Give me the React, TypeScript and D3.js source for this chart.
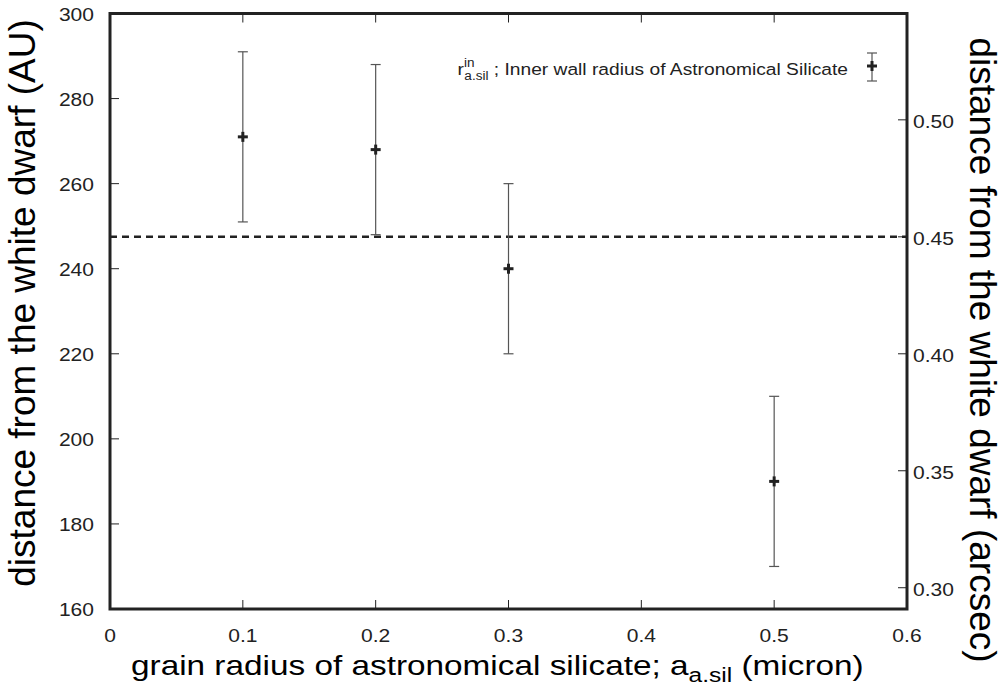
import React from "react";
import * as d3 from "d3";

// grain radius (micron)
const grainRadius = [0.1, 0.2, 0.3, 0.5];
// inner wall radius (AU) with error bar ends
const innerRadius = [271, 268, 240, 190];
const errLow = [251, 248, 220, 170];
const errHigh = [291, 288, 260, 210];
// dashed reference line (AU)
const refLine = 247.5;
// distance conversion: AU per arcsec
const auPerArcsec = 550;

const xTicks = [0, 0.1, 0.2, 0.3, 0.4, 0.5, 0.6];
const yTicks = [160, 180, 200, 220, 240, 260, 280, 300];
const y2Ticks = [0.3, 0.35, 0.4, 0.45, 0.5];

const W = 1005;
const H = 690;
const m = { left: 110, right: 907, top: 13.5, bottom: 609 };
const font = "'Liberation Sans', Arial, Helvetica, sans-serif";
const sx = 1.17; // horizontal text stretch seen in the figure

export default function App() {
  const x = d3.scaleLinear().domain([0, 0.6]).range([m.left, m.right]);
  const y = d3.scaleLinear().domain([160, 300]).range([m.bottom, m.top]);
  const y2 = d3
    .scaleLinear()
    .domain([160 / auPerArcsec, 300 / auPerArcsec])
    .range([m.bottom, m.top]);

  const ink = "#222";
  const bar = "#555";

  const plus = (cx: number, cy: number, key: string) => (
    <g key={key} stroke={ink} strokeWidth={3}>
      <line x1={cx - 5} x2={cx + 5} y1={cy} y2={cy} />
      <line x1={cx} x2={cx} y1={cy - 5} y2={cy + 5} />
    </g>
  );

  const label = (px: number, py: number, s: string, anchor: string, key: string) => (
    <text
      key={key}
      transform={`translate(${px},${py}) scale(${sx},1)`}
      textAnchor={anchor}
      fontSize={18}
      fill={ink}
    >
      {s}
    </text>
  );

  return (
    <svg
      width={W}
      height={H}
      style={{ position: "absolute", left: 0, top: 0, background: "#fff" }}
      fontFamily={font}
    >
      {/* x ticks bottom + top */}
      {xTicks.map((t) => (
        <g key={"xt" + t}>
          <line x1={x(t)} x2={x(t)} y1={m.bottom} y2={m.bottom - 9} stroke={ink} strokeWidth={1} />
          <line x1={x(t)} x2={x(t)} y1={m.top} y2={m.top + 9} stroke={ink} strokeWidth={1} />
          {label(x(t), 642, t === 0 ? "0" : t.toFixed(1), "middle", "xl" + t)}
        </g>
      ))}
      {/* left y ticks */}
      {yTicks.map((t) => (
        <g key={"yt" + t}>
          <line x1={m.left} x2={m.left + 9} y1={y(t)} y2={y(t)} stroke={ink} strokeWidth={1} />
          {label(94, y(t) + 7, String(t), "end", "yl" + t)}
        </g>
      ))}
      {/* right y2 ticks */}
      {y2Ticks.map((t) => (
        <g key={"y2t" + t}>
          <line x1={m.right} x2={m.right - 9} y1={y2(t)} y2={y2(t)} stroke={ink} strokeWidth={1} />
          {label(913, y2(t) + 8, t.toFixed(2), "start", "y2l" + t)}
        </g>
      ))}

      {/* dashed line */}
      <line
        x1={m.left}
        x2={m.right}
        y1={y(refLine)}
        y2={y(refLine)}
        stroke={ink}
        strokeWidth={2.5}
        strokeDasharray="7,5"
      />

      {/* error bars */}
      {grainRadius.map((g, i) => (
        <g key={"e" + i} stroke={bar} strokeWidth={1.2}>
          <line x1={x(g)} x2={x(g)} y1={y(errLow[i])} y2={y(errHigh[i])} />
          <line x1={x(g) - 5} x2={x(g) + 5} y1={y(errLow[i])} y2={y(errLow[i])} />
          <line x1={x(g) - 5} x2={x(g) + 5} y1={y(errHigh[i])} y2={y(errHigh[i])} />
        </g>
      ))}
      {grainRadius.map((g, i) => plus(x(g), y(innerRadius[i]), "p" + i))}

      {/* legend */}
      <text
        transform={`translate(848,75) scale(1.13,1)`}
        textAnchor="end"
        fontSize={17}
        fill={ink}
      >
        <tspan>r</tspan>
        <tspan fontSize={12} dy={-8}>in</tspan>
        <tspan fontSize={12} dx={-9} dy={13}>a.sil</tspan>
        <tspan fontSize={17} dy={-5}> ; Inner wall radius of Astronomical Silicate</tspan>
      </text>
      <g stroke={bar} strokeWidth={1.2}>
        <line x1={872} x2={872} y1={53} y2={81} />
        <line x1={867} x2={877} y1={53} y2={53} />
        <line x1={867} x2={877} y1={81} y2={81} />
      </g>
      {plus(872, 66, "lg")}

      {/* frame */}
      <rect
        x={m.left}
        y={m.top}
        width={m.right - m.left}
        height={m.bottom - m.top}
        fill="none"
        stroke={ink}
        strokeWidth={3}
      />

      {/* axis titles */}
      <text transform={`translate(131,675) scale(${sx},1)`} fontSize={28.5} fill="#000">
        grain radius of astronomical silicate; a
        <tspan fontSize={21} dy={7}>a.sil</tspan>
        <tspan fontSize={28.5} dy={-7}> (micron)</tspan>
      </text>
      <text
        transform={`translate(35,303) rotate(-90)`}
        textAnchor="middle"
        fontSize={37}
        fill="#000"
      >
        distance from the white dwarf (AU)
      </text>
      <text
        transform={`translate(970,350) rotate(90)`}
        textAnchor="middle"
        fontSize={37}
        fill="#000"
      >
        distance from the white dwarf (arcsec)
      </text>
    </svg>
  );
}
